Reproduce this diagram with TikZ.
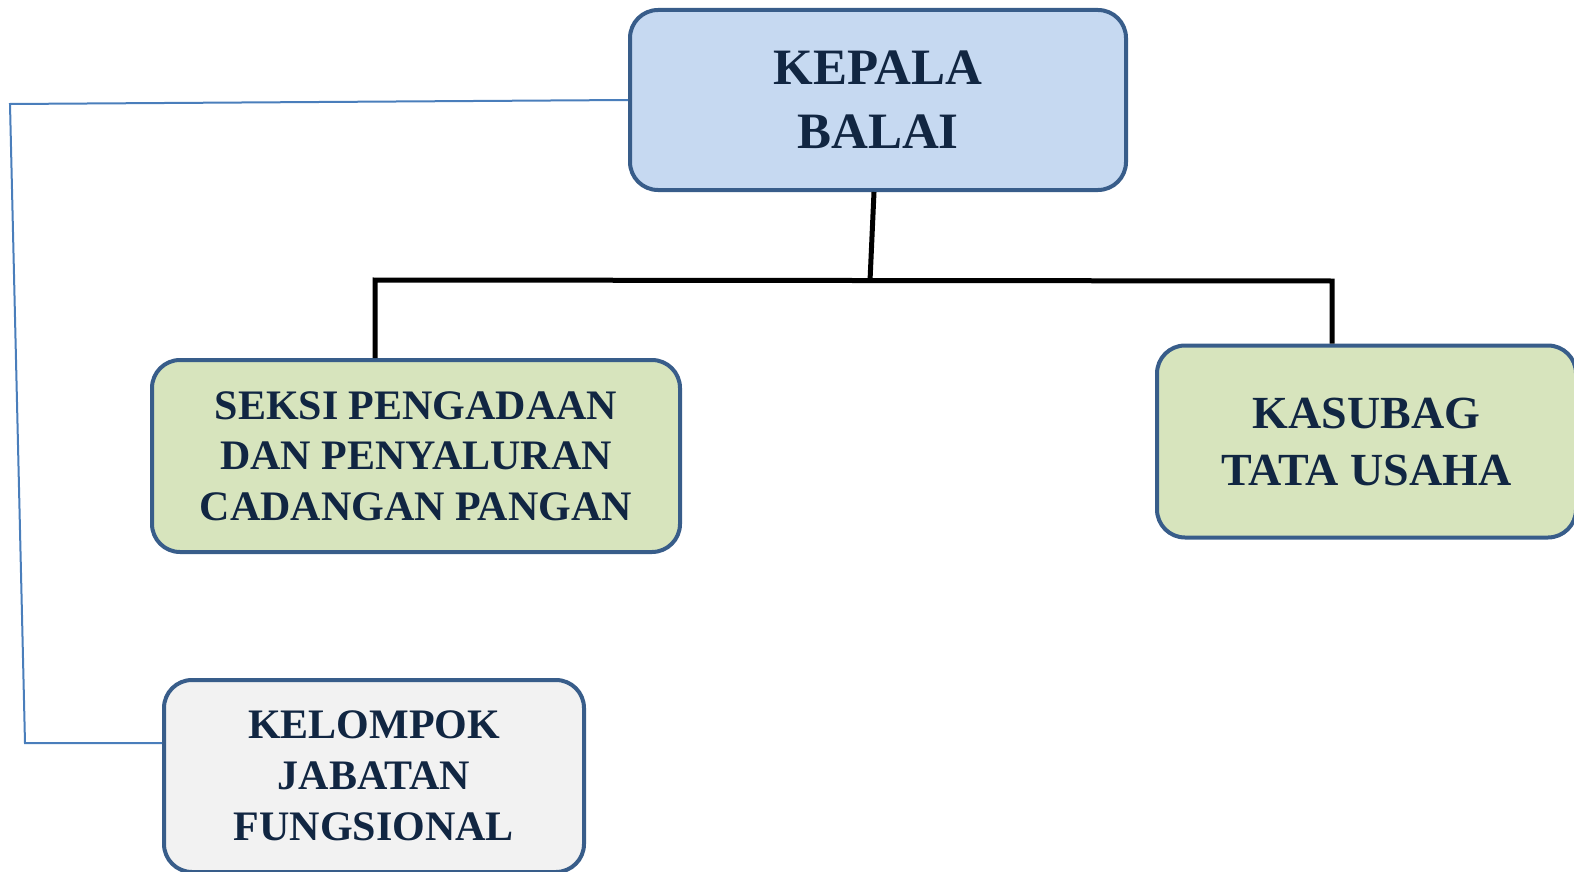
\documentclass[tikz,border=0pt]{standalone}
\usepackage{fontspec}
\setmainfont{Liberation Serif}
\usetikzlibrary{positioning}

\definecolor{garistepi}{RGB}{56,93,138}
\definecolor{teksbiru}{RGB}{17,38,66}
\definecolor{birumuda}{RGB}{198,217,241}
\definecolor{hijaumuda}{RGB}{215,228,189}
\definecolor{abumuda}{RGB}{242,242,242}
\definecolor{garisbiru}{RGB}{74,126,187}

\begin{document}
\begin{tikzpicture}[x=0.5pt, y=-0.5pt,
    kotak/.style={draw=garistepi, line width=2pt, rounded corners=14pt,
                  align=center, inner sep=0pt, text=teksbiru},
    hubung/.style={draw=black, line width=2.5pt, line join=miter},
    hubungtipis/.style={draw=garisbiru, line width=1pt}]

    % Ukuran halaman sama dengan gambar acuan
    \useasboundingbox (0,0) rectangle (1574,872);

    % Kotak pimpinan di atas
    \node[kotak, fill=birumuda, minimum width=248pt, minimum height=90pt,
          font=\fontsize{25.5}{32}\selectfont\bfseries] (kepala) at (878,100) {KEPALA\\BALAI};

    % Dua kotak di bawahnya
    \node[kotak, fill=hijaumuda, minimum width=264pt, minimum height=96pt,
          font=\fontsize{21}{25.3}\selectfont\bfseries] (seksi) at (416,456)
          {SEKSI PENGADAAN\\DAN PENYALURAN\\CADANGAN PANGAN};
    \node[kotak, fill=hijaumuda, minimum width=209.5pt, minimum height=96pt,
          font=\fontsize{23}{28.5}\selectfont\bfseries] (kasubag) at (1366.5,441.5)
          {KASUBAG\\TATA USAHA};

    % Kotak jabatan fungsional (kiri bawah)
    \node[kotak, fill=abumuda, minimum width=210pt, minimum height=96pt,
          font=\fontsize{21}{25.5}\selectfont\bfseries] (kelompok) at (374,776)
          {KELOMPOK\\JABATAN\\FUNGSIONAL};

    % Titik cabang garis hitam
    \coordinate (cabang) at (870,281);
    \coordinate (cabangkiri) at (375,280);
    \coordinate (cabangkanan) at (1332,281);

    % Garis hitam dari kepala ke dua kotak
    \draw[hubung] ([xshift=-2pt]kepala.south) -- (cabang);
    \draw[hubung] (cabangkiri |- seksi.north) -- (cabangkiri) -- (cabangkanan)
        -- (cabangkanan |- kasubag.north);

    % Garis biru tipis ke kelompok jabatan fungsional
    \coordinate (belok1) at (10,104);
    \coordinate (belok2) at (25,743);
    \draw[hubungtipis] (kepala.west) -- (belok1) -- (belok2) -- (belok2 -| kelompok.west);

\end{tikzpicture}
\end{document}
